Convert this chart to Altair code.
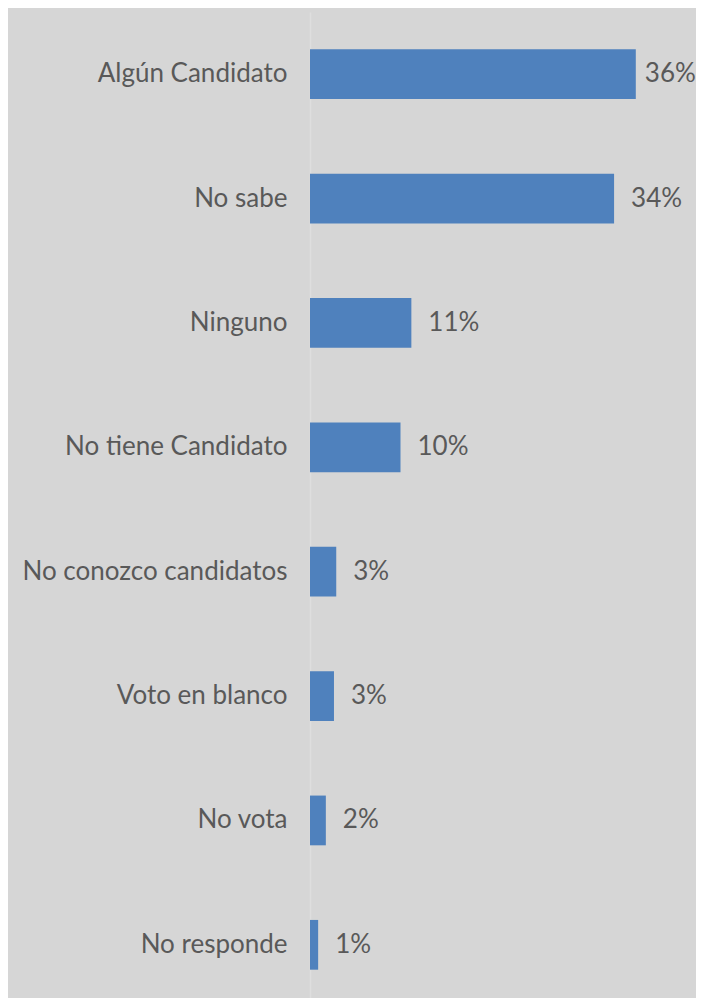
import altair as alt
import pandas as pd

categories = ["Algún Candidato", "No sabe", "Ninguno", "No tiene Candidato",
              "No conozco candidatos", "Voto en blanco", "No vota", "No responde"]
values = [36.0, 33.6, 11.2, 10.0, 2.9, 2.65, 1.75, 0.9]
labels = ["36%", "34%", "11%", "10%", "3%", "3%", "2%", "1%"]

df = pd.DataFrame({"cat": categories, "value": values, "label": labels})

FONT = "Lato"
TXT = "#595959"
FS = 26

y = alt.Y("cat:N", sort=categories,
          scale=alt.Scale(paddingInner=0.6, paddingOuter=0.3, range=[0, 995]),
          axis=alt.Axis(title=None, ticks=False, labelPadding=23, labelFontSize=FS,
                        labelColor=TXT, labelFont=FONT, domainColor="#dedede",
                        domainWidth=1.5, labelLimit=400, grid=False))
x = alt.X("value:Q", scale=alt.Scale(domain=[0, 40]), axis=None)

bars = alt.Chart(df).mark_bar(color="#4f81bd").encode(x=x, y=y)
text = alt.Chart(df).transform_filter("datum.value < 35").mark_text(
    align="left", dx=17, font=FONT, fontSize=FS, color=TXT).encode(x=x, y=y, text="label:N")
text_top = alt.Chart(df).transform_filter("datum.value >= 35").mark_text(
    align="left", dx=9, font=FONT, fontSize=FS, color=TXT).encode(x=x, y=y, text="label:N")

chart = alt.layer(bars, text, text_top).properties(
    width=362, height=986,
    autosize=alt.AutoSizeParams(type="none"),
    padding={"left": 302, "top": 4, "right": 24, "bottom": 0},
).configure(background="#d6d6d6").configure_view(stroke=None)

chart.save("out.html", embed_options={"renderer": "svg", "actions": False})
